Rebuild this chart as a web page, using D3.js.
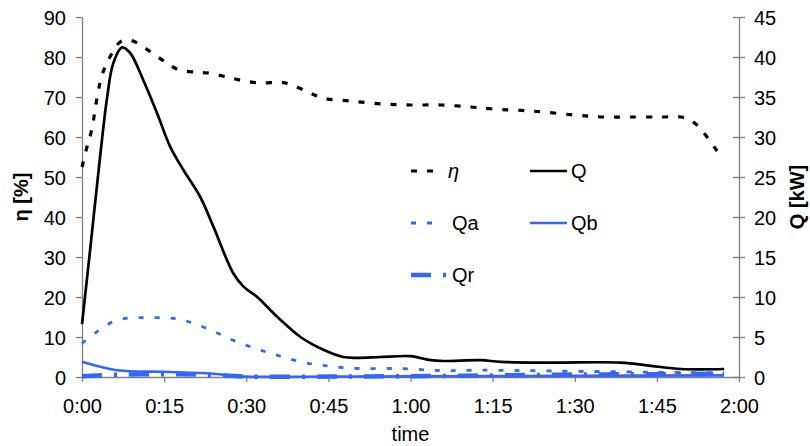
<!DOCTYPE html>
<html>
<head>
<meta charset="utf-8">
<script src="https://cdn.jsdelivr.net/npm/d3@7"></script>
<style>
  html, body { margin: 0; padding: 0; background: #fff; }
  svg { display: block; font-family: "Liberation Sans", Arial, sans-serif; }
</style>
</head>
<body>
<div id="chart"></div>
<script>
// time in minutes since start
const xTicks = [0, 15, 30, 45, 60, 75, 90, 105, 120];
const leftTicks = [0, 10, 20, 30, 40, 50, 60, 70, 80, 90];
const rightTicks = [0, 5, 10, 15, 20, 25, 30, 35, 40, 45];

// efficiency eta [%] (left axis)
const etaTime = [0, 0.9, 1.8, 2.9, 3.8, 5.1, 7, 8.5, 10, 12.8, 15.5, 17.6, 21, 23, 26.5, 28.9, 32.6, 36.2, 38, 41.2, 44.1, 49, 54.5, 60, 65.5, 71, 75, 82, 90, 95.3, 100, 105.7, 109.4, 111.6, 113.6, 116];
const etaValues = [52.5, 57.5, 62, 71, 76, 80, 83.8, 84.2, 83.6, 81, 78.5, 76.8, 76.2, 76, 75, 74.2, 73.5, 73.7, 73.2, 71.3, 69.7, 69, 68.3, 68, 68, 67.5, 67, 66.5, 65.5, 65, 65, 65, 65, 63.8, 61, 56.5];

// heat output Q [kW] (right axis)
const qTime = [0, 1.5, 3.3, 4.6, 5.7, 7.3, 8.8, 11.2, 13.7, 16.1, 18.5, 21.6, 24, 27.6, 29.5, 32, 35.7, 39.9, 44.1, 47.7, 50.3, 54.5, 60, 63.7, 66, 72.8, 76.5, 85.6, 98.4, 103.9, 109.4, 117.3];
const qValues = [6.6, 16, 27.5, 35, 39.2, 41.2, 40.5, 37.1, 33, 28.8, 25.9, 22.5, 18.8, 13, 11.3, 10, 7.5, 5, 3.4, 2.5, 2.4, 2.5, 2.6, 2.1, 2.0, 2.1, 1.9, 1.8, 1.8, 1.4, 1.0, 1.0];

const qaTime = [0, 3, 6, 9, 12, 15.5, 18.5, 21.6, 24.7, 27.6, 30.7, 33.8, 36.8, 39.9, 43.5, 49, 58, 66, 73, 86, 104, 117.3];
const qaValues = [4.2, 5.8, 7.0, 7.4, 7.4, 7.4, 7.1, 6.4, 5.5, 4.6, 3.8, 3.1, 2.5, 1.9, 1.5, 1.1, 1.05, 0.8, 0.85, 0.75, 0.6, 0.5];

const qbTime = [0, 6.4, 15, 21.6, 27.6, 30, 45, 60, 90, 117.3];
const qbValues = [1.9, 0.85, 0.65, 0.5, 0.2, 0.05, 0.05, 0.1, 0.15, 0.2];

const qrTime = [0, 7, 15, 22, 30, 45, 60, 75, 90, 105, 117.3];
const qrValues = [0.1, 0.3, 0.35, 0.3, 0.05, 0.05, 0.1, 0.2, 0.3, 0.35, 0.4];

const W = 810, H = 446;
const plotL = 82, plotR = 739, plotT = 17, plotB = 377;
const BLUE = "#3366ff";
const AXIS = "#808080";
const FS = 20;

const x = d3.scaleLinear().domain([0, 120]).range([plotL, plotR]);
const yL = d3.scaleLinear().domain([0, 90]).range([plotB, plotT]);
const yR = d3.scaleLinear().domain([0, 45]).range([plotB, plotT]);

const fmtTime = m => `${Math.floor(m / 60)}:${String(m % 60).padStart(2, "0")}`;

const svg = d3.select("#chart").append("svg").attr("width", W).attr("height", H);

// --- axes ---
const gx = svg.append("g").attr("transform", `translate(0,${plotB})`)
  .call(d3.axisBottom(x).tickValues(xTicks).tickFormat(fmtTime).tickSize(5).tickSizeOuter(0));
const gl = svg.append("g").attr("transform", `translate(${plotL},0)`)
  .call(d3.axisLeft(yL).tickValues(leftTicks).tickSize(6).tickSizeOuter(0));
const gr = svg.append("g").attr("transform", `translate(${plotR},0)`)
  .call(d3.axisRight(yR).tickValues(rightTicks).tickSize(6).tickSizeOuter(0));

for (const g of [gx, gl, gr]) {
  g.select(".domain").attr("stroke", AXIS).attr("stroke-width", 1.3);
  g.selectAll(".tick line").attr("stroke", AXIS).attr("stroke-width", 1.3);
  g.selectAll(".tick text").attr("font-size", FS).attr("fill", "#000")
    .attr("font-family", "Liberation Sans, Arial, sans-serif");
}
gx.selectAll(".tick text").attr("dy", 0).attr("y", 36);
gl.selectAll(".tick text").attr("x", -16).attr("dy", "0.35em");
// right axis ticks cross the axis line
gr.selectAll(".tick line").attr("x1", -6).attr("x2", 6);
gr.selectAll(".tick text").attr("x", 15).attr("dy", "0.35em");

// axis titles
svg.append("text").attr("x", (plotL + plotR) / 2).attr("y", 441)
  .attr("text-anchor", "middle").attr("font-size", FS).text("time");
svg.append("text").attr("transform", `translate(28,${(plotT + plotB) / 2}) rotate(-90)`)
  .attr("text-anchor", "middle").attr("font-size", FS).attr("font-weight", "bold").text("η [%]");
svg.append("text").attr("transform", `translate(804,${(plotT + plotB) / 2}) rotate(-90)`)
  .attr("text-anchor", "middle").attr("font-size", FS).attr("font-weight", "bold").text("Q [kW]");

// --- series ---
const series = [
  { name: "η", t: etaTime, v: etaValues, y: yL, color: "#000", width: 3.2, dash: "6,10" },
  { name: "Q", t: qTime, v: qValues, y: yR, color: "#000", width: 2.7, dash: null },
  { name: "Qa", t: qaTime, v: qaValues, y: yR, color: BLUE, width: 2.8, dash: "5,11" },
  { name: "Qb", t: qbTime, v: qbValues, y: yR, color: BLUE, width: 2.6, dash: null },
  { name: "Qr", t: qrTime, v: qrValues, y: yR, color: BLUE, width: 4.5, dash: "20,12,3,12" }
];

for (const s of series) {
  const pts = s.t.map((t, i) => [t, s.v[i]]);
  const line = d3.line().x(d => x(d[0])).y(d => s.y(d[1])).curve(d3.curveCatmullRom.alpha(0.5));
  svg.append("path").attr("d", line(pts)).attr("fill", "none")
    .attr("stroke", s.color).attr("stroke-width", s.width)
    .attr("stroke-dasharray", s.dash);
}

// --- legend ---
const legendPos = [[411, 171], [530, 171], [411, 223], [530, 223], [411, 275]];
series.forEach((s, i) => {
  const [lx, ly] = legendPos[i];
  const len = s.dash ? (s.name === "Qr" ? 36 : 24) : 37;
  svg.append("line").attr("x1", lx).attr("x2", lx + len).attr("y1", ly).attr("y2", ly)
    .attr("stroke", s.color).attr("stroke-width", s.width).attr("stroke-dasharray", s.dash);
  const tx = s.name === "η" ? 448 : (s.dash ? 452 : lx + 41);
  svg.append("text").attr("x", tx).attr("y", ly + 7).attr("font-size", FS)
    .attr("font-style", s.name === "η" ? "italic" : null).text(s.name);
});
</script>
</body>
</html>
